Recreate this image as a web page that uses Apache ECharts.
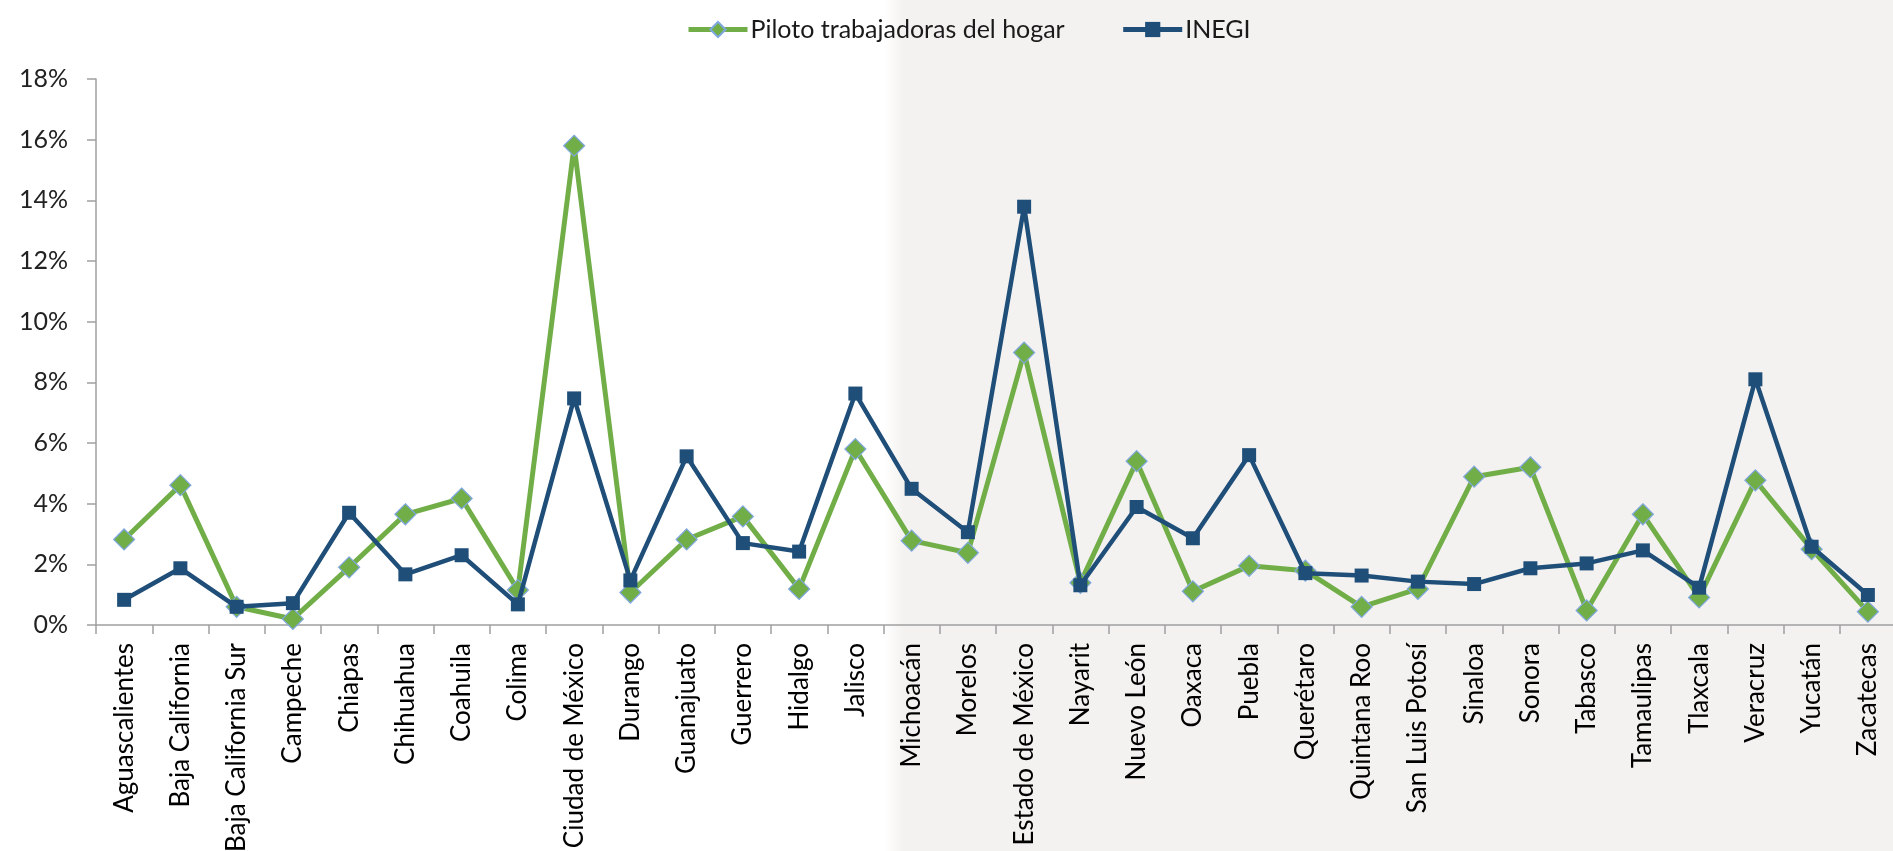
<!DOCTYPE html>
<html>
<head>
<meta charset="utf-8">
<script src="https://cdn.jsdelivr.net/npm/echarts@6/dist/echarts.min.js"></script>
<style>
  html, body { margin: 0; padding: 0; }
  body { background: linear-gradient(to right, #ffffff 0px, #ffffff 884px, #f3f2f0 904px, #f3f2f0 100%); }
  #chart { width: 1893px; height: 851px; }
</style>
</head>
<body>
<div id="chart"></div>
<script>
const categories = ["Aguascalientes","Baja California","Baja California Sur","Campeche","Chiapas","Chihuahua","Coahuila","Colima","Ciudad de México","Durango","Guanajuato","Guerrero","Hidalgo","Jalisco","Michoacán","Morelos","Estado de México","Nayarit","Nuevo León","Oaxaca","Puebla","Querétaro","Quintana Roo","San Luis Potosí","Sinaloa","Sonora","Tabasco","Tamaulipas","Tlaxcala","Veracruz","Yucatán","Zacatecas"];
const piloto = [2.82,4.61,0.60,0.20,1.90,3.65,4.17,1.15,15.80,1.07,2.82,3.58,1.19,5.80,2.78,2.38,8.98,1.39,5.40,1.11,1.95,1.79,0.60,1.19,4.89,5.20,0.48,3.65,0.91,4.77,2.50,0.44];
const inegi = [0.83,1.87,0.60,0.72,3.70,1.67,2.30,0.68,7.47,1.47,5.56,2.70,2.42,7.63,4.49,3.06,13.79,1.31,3.89,2.86,5.60,1.71,1.63,1.43,1.35,1.87,2.03,2.46,1.23,8.10,2.58,0.99];
const seriesNames = ["Piloto trabajadoras del hogar","INEGI"];
const yTicks = {min: 0, max: 18, interval: 2};

const chart = echarts.init(document.getElementById('chart'), null, {renderer: 'canvas'});
chart.setOption({
  animation: false,
  backgroundColor: 'transparent',
  legend: {
    left: 681, top: 12,
    itemWidth: 59, itemHeight: 19, itemGap: 56,
    lineStyle: {width: 5},
    textStyle: {fontFamily: 'Lato', fontSize: 25, color: '#1a1a1a', padding: [0,0,0,-2]},
    data: seriesNames
  },
  grid: {left: 96, width: 1800, top: 79, bottom: 226, containLabel: false, outerBoundsMode: 'none'},
  xAxis: {
    type: 'category', data: categories, boundaryGap: true,
    axisLine: {lineStyle: {color: '#a0a0a0', width: 1.5}},
    axisTick: {show: true, alignWithLabel: false, length: 9, lineStyle: {color: '#a0a0a0', width: 1.5}},
    axisLabel: {rotate: 90, interval: 0, margin: 18, fontFamily: 'Lato', fontSize: 26, color: '#000000'}
  },
  yAxis: {
    type: 'value', min: yTicks.min, max: yTicks.max, interval: yTicks.interval,
    splitLine: {show: false},
    axisLine: {show: true, lineStyle: {color: '#a0a0a0', width: 1.5}},
    axisTick: {show: true, length: 9, lineStyle: {color: '#a0a0a0', width: 1.5}},
    axisLabel: {formatter: '{value}%', margin: 28, fontFamily: 'Lato', fontSize: 25, color: '#222222'}
  },
  series: [
    {
      name: seriesNames[0], type: 'line', data: piloto,
      symbol: 'diamond', symbolSize: 21,
      lineStyle: {color: '#72ae48', width: 5},
      itemStyle: {color: '#72ae48', borderColor: '#7fa7df', borderWidth: 1.2},
      z: 2
    },
    {
      name: seriesNames[1], type: 'line', data: inegi,
      symbol: 'rect', symbolSize: 14,
      lineStyle: {color: '#1f4e79', width: 4.5},
      itemStyle: {color: '#1f4e79'},
      z: 3
    }
  ]
});
</script>
</body>
</html>
